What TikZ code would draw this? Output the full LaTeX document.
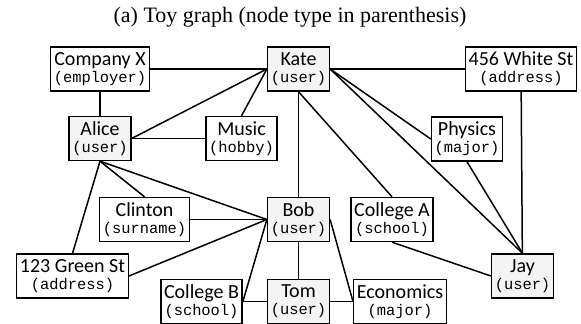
\documentclass[tikz,border=0pt]{standalone}
\usepackage{fontspec}
\setmainfont{Liberation Serif}
\setsansfont{Carlito}
\setmonofont{Liberation Mono}
\newcommand{\ent}[2]{#1\\{\fontsize{7.7pt}{8.5pt}\ttfamily(#2)}}

\begin{document}
\begin{tikzpicture}[x=0.5pt, y=-0.5pt, align=center,
  font=\sffamily\fontsize{10pt}{8.5pt}\selectfont,
  item/.style={draw, line width=0.7pt, inner xsep=1.6pt, inner ysep=1pt, minimum height=22pt},
  usr/.style={item, fill=gray!9},
  edge/.style={line width=0.75pt}]

\useasboundingbox (0,0) rectangle (581,324);

% Title
\node[font=\rmfamily\fontsize{11pt}{13pt}\selectfont] (title) at (290,17) {(a) Toy graph (node type in parenthesis)};

% Users
\node[usr] (kate) at (298.5,69) {\ent{Kate}{user}};
\node[usr] (alice) at (100,138.5) {\ent{Alice}{user}};
\node[usr] (bob) at (298.5,219.5) {\ent{Bob}{user}};
\node[usr] (tom) at (298.5,301.5) {\ent{Tom}{user}};
\node[usr] (jay) at (522.5,276) {\ent{Jay}{user}};

% Other nodes
\node[item] (company) at (100,69) {\ent{Company X}{employer}};
\node[item] (white) at (521,69) {\ent{456 White St}{address}};
\node[item] (music) at (241.5,138.5) {\ent{Music}{hobby}};
\node[item] (physics) at (467,139) {\ent{Physics}{major}};
\node[item] (clinton) at (144.5,219.5) {\ent{Clinton}{surname}};
\node[item] (collegeA) at (392,219.5) {\ent{College A}{school}};
\node[item] (green) at (72.5,276) {\ent{123 Green St}{address}};
\node[item] (collegeB) at (201.5,301.5) {\ent{College B}{school}};
\node[item] (econ) at (400,301.5) {\ent{Economics}{major}};

% Edges
\draw[edge] (company) -- (kate);
\draw[edge] (kate) -- (white);
\draw[edge] (company) -- (alice);
\draw[edge] (alice.east) -- (kate.west);
\draw[edge] (alice) -- (music);
\draw[edge] (music.north) -- (kate.west);
\draw[edge] (kate.east) -- (physics.west);
\draw[edge] (kate.east) -- (jay.north);
\draw[edge] (kate.south) -- (collegeA.north);
\draw[edge] (kate) -- (bob);
\draw[edge] (white) -- (jay);
\draw[edge] (physics.south) -- (jay.north);
\draw[edge] (collegeA.south) -- (jay.west);
\draw[edge] (alice.south) -- (clinton.north);
\draw[edge] (alice.south) -- (green.north);
\draw[edge] (alice.south) -- (bob.west);
\draw[edge] (clinton) -- (bob);
\draw[edge] (green.east) -- (bob.west);
\draw[edge] (collegeB.east) -- (bob.west);
\draw[edge] (bob) -- (tom);
\draw[edge] (collegeB) -- (tom);
\draw[edge] (tom) -- (econ);
\draw[edge] (bob.east) -- (econ.west);

\end{tikzpicture}
\end{document}
